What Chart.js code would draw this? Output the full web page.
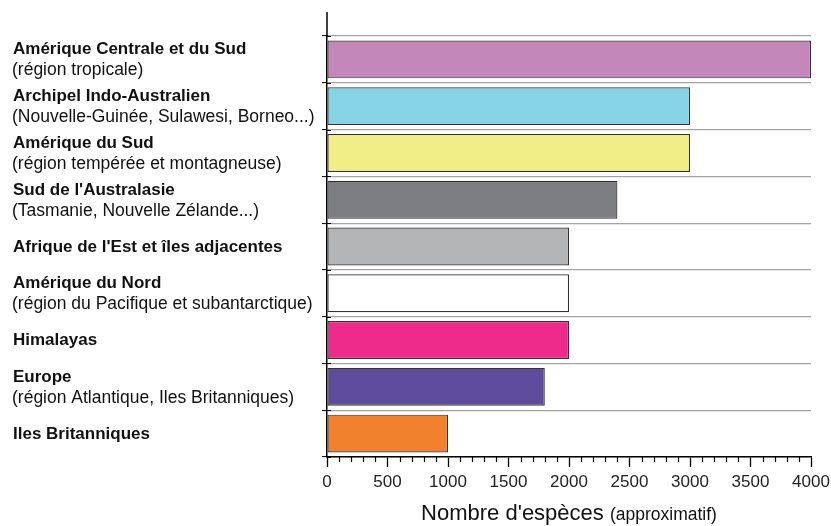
<!DOCTYPE html>
<html><head><meta charset="utf-8">
<script src="https://cdn.jsdelivr.net/npm/chart.js@4"></script>
<style>html,body{margin:0;padding:0;background:#fff}#wrap{width:831px;height:526px}</style>
</head><body><div id="wrap"><canvas id="c" width="831" height="526"></canvas></div>
<script>
const regionNames = [
  "Amérique Centrale et du Sud",
  "Archipel Indo-Australien",
  "Amérique du Sud",
  "Sud de l'Australasie",
  "Afrique de l'Est et îles adjacentes",
  "Amérique du Nord",
  "Himalayas",
  "Europe",
  "Iles Britanniques"
];
const regionNotes = [
  "(région tropicale)",
  "(Nouvelle-Guinée, Sulawesi, Borneo...)",
  "(région tempérée et montagneuse)",
  "(Tasmanie, Nouvelle Zélande...)",
  "",
  "(région du Pacifique et subantarctique)",
  "",
  "(région Atlantique, Iles Britanniques)",
  ""
];
const speciesCounts = [4000, 3000, 3000, 2400, 2000, 2000, 2000, 1800, 1000];
const barColors = ["#c487b9", "#85d3e5", "#f2ee87", "#7d7e81", "#b3b5b7", "#ffffff", "#ee2b8b", "#5d4b9b", "#f2812e"];
const xTickValues = [0, 500, 1000, 1500, 2000, 2500, 3000, 3500, 4000];
const axisTitleMain = "Nombre d'espèces";
const axisTitleNote = "(approximatif)";

const FONT = "'Liberation Sans', Arial, Helvetica, sans-serif";

const decor = {
  id: 'decor',
  afterDraw(chart) {
    const ctx = chart.ctx, ys = chart.scales.y, xs = chart.scales.x, ca = chart.chartArea;
    ctx.save();
    ctx.strokeStyle = '#000'; ctx.lineWidth = 1.5;
    ctx.beginPath(); ctx.moveTo(ca.left, 12); ctx.lineTo(ca.left, ca.top); ctx.stroke();
    ctx.lineWidth = 1;
    for (let i = 0; i <= regionNames.length; i++) {
      const y = Math.round(ys.getPixelForValue(i - 0.5)) + 0.5;
      ctx.beginPath(); ctx.moveTo(ca.left, y); ctx.lineTo(ca.left + 4, y); ctx.stroke();
    }
    ctx.lineWidth = 1.2;
    for (let v = 0; v <= 4000; v += 100) {
      if (v % 500 === 0) continue;
      const x = Math.round(xs.getPixelForValue(v)) + 0.5;
      ctx.beginPath(); ctx.moveTo(x, ca.bottom); ctx.lineTo(x, ca.bottom + 5); ctx.stroke();
    }
    ctx.fillStyle = '#111'; ctx.textAlign = 'left'; ctx.textBaseline = 'alphabetic';
    regionNames.forEach((name, i) => {
      const yc = ys.getPixelForValue(i);
      const note = regionNotes[i];
      ctx.font = 'bold 17px ' + FONT;
      if (note) {
        ctx.fillText(name, 13, yc - 5);
        ctx.font = '17.5px ' + FONT;
        ctx.fillText(note, 12, yc + 16);
      } else {
        ctx.fillText(name, 13, yc + 5);
      }
    });
    ctx.fillStyle = '#111';
    ctx.font = '22px ' + FONT;
    const w1 = ctx.measureText(axisTitleMain + ' ').width;
    ctx.font = '17.5px ' + FONT;
    const w2 = ctx.measureText(axisTitleNote).width;
    const cx = (ca.left + ca.right) / 2;
    const x0 = cx - (w1 + w2) / 2;
    ctx.font = '22px ' + FONT;
    ctx.fillText(axisTitleMain + ' ', x0, 520);
    ctx.font = '17.5px ' + FONT;
    ctx.fillText(axisTitleNote, x0 + w1, 520);
    ctx.restore();
  }
};

new Chart(document.getElementById('c'), {
  type: 'bar',
  data: {
    labels: regionNames,
    datasets: [{
      data: speciesCounts,
      backgroundColor: barColors,
      borderColor: '#333',
      borderWidth: 1.2,
      borderSkipped: false,
      barPercentage: 0.81,
      categoryPercentage: 1
    }]
  },
  options: {
    indexAxis: 'y',
    responsive: false,
    animation: false,
    devicePixelRatio: 1,
    layout: { padding: { top: 36, right: 20, bottom: 0, left: 0 } },
    plugins: { legend: { display: false }, tooltip: { enabled: false } },
    scales: {
      x: {
        min: 0, max: 4000,
        afterFit(s) { s.height = 69; s.paddingRight = 0; s.paddingLeft = 0; },
        afterBuildTicks(s) { s.ticks = xTickValues.map(v => ({ value: v })); },
        ticks: { color: '#222', font: { size: 17, family: FONT }, padding: 5, maxRotation: 0, autoSkip: false,
                 callback: (v) => String(v) },
        grid: { drawOnChartArea: false, drawTicks: true, tickLength: 10, tickColor: '#000', tickWidth: 1.3 },
        border: { color: '#000', width: 1.5 }
      },
      y: {
        afterFit(s) { s.width = 327; },
        ticks: { display: false },
        grid: { offset: true, color: '#a3a3a3', lineWidth: 1.2, drawTicks: true, tickLength: 5, tickColor: '#000', tickWidth: 1 },
        border: { color: '#000', width: 1.5 }
      }
    }
  },
  plugins: [decor]
});
</script></body></html>
